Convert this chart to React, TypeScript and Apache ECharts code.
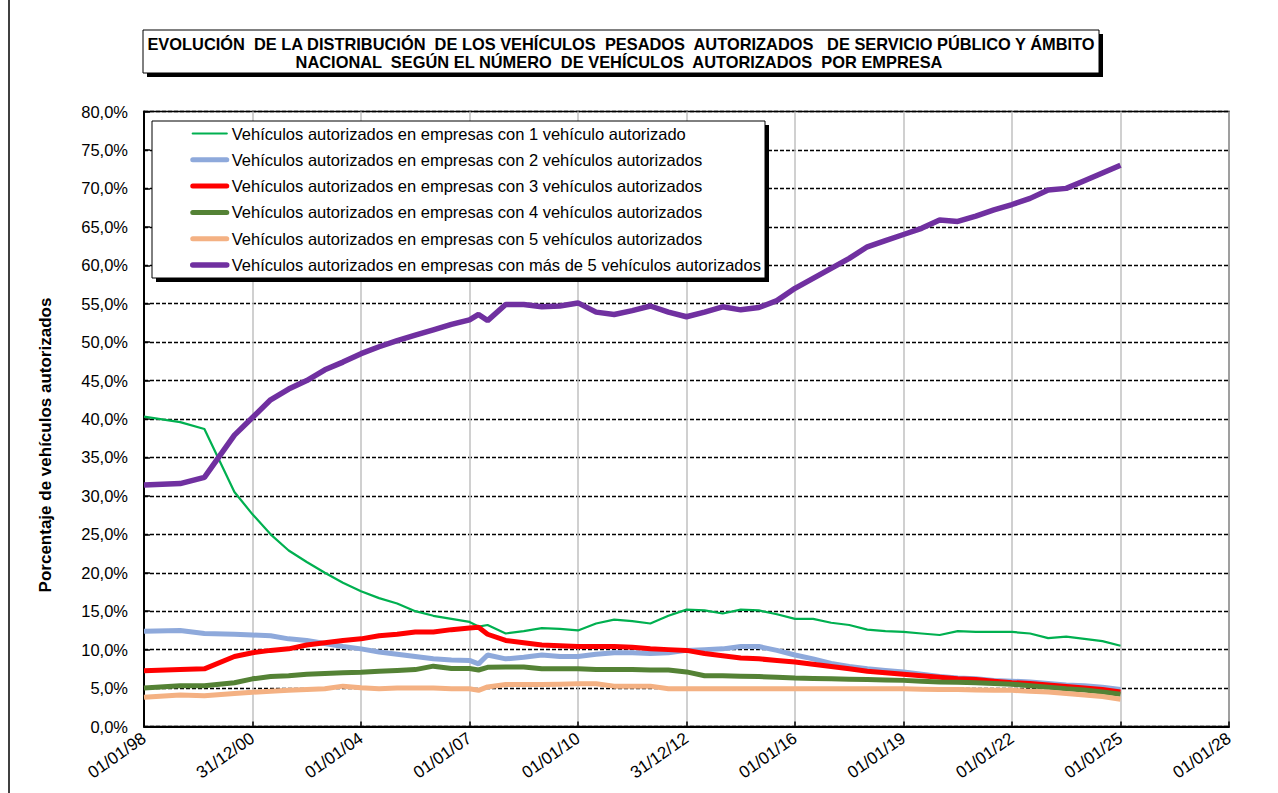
import React, { useEffect, useRef } from "react";
import * as echarts from "echarts";

const dates = [
  1998.0, 1999.0, 1999.67, 2000.5, 2001.0, 2001.5, 2002.0, 2002.5, 2003.0, 2003.5,
  2004.0, 2004.5, 2005.0, 2005.5, 2006.0, 2006.5, 2007.0, 2007.25, 2007.5, 2008.0,
  2008.5, 2009.0, 2009.5, 2010.0, 2010.5, 2011.0, 2011.5, 2012.0, 2012.5, 2013.0,
  2013.5, 2014.0, 2014.5, 2015.0, 2015.5, 2016.0, 2016.5, 2017.0, 2017.5, 2018.0,
  2018.5, 2019.0, 2019.5, 2020.0, 2020.5, 2021.0, 2021.5, 2022.0, 2022.5, 2023.0,
  2023.5, 2024.0, 2024.5, 2025.0,
];

const veh1 = [
  40.3, 39.6, 38.7, 30.5, 27.6, 25.0, 22.9, 21.4, 20.0, 18.7,
  17.6, 16.7, 16.0, 15.0, 14.4, 14.0, 13.6, 13.0, 13.2, 12.1,
  12.4, 12.8, 12.7, 12.5, 13.4, 13.9, 13.7, 13.4, 14.4, 15.2,
  15.1, 14.7, 15.2, 15.1, 14.6, 14.0, 14.0, 13.5, 13.2, 12.6,
  12.4, 12.3, 12.1, 11.9, 12.4, 12.3, 12.3, 12.3, 12.1, 11.5,
  11.7, 11.4, 11.1, 10.5,
];

const veh2 = [
  12.4, 12.5, 12.1, 12.0, 11.9, 11.8, 11.4, 11.2, 10.8, 10.4,
  10.1, 9.7, 9.4, 9.1, 8.8, 8.65, 8.6, 8.15, 9.3, 8.8,
  9.0, 9.3, 9.1, 9.1, 9.4, 9.6, 9.6, 9.5, 9.6, 9.9,
  10.0, 10.1, 10.4, 10.4, 9.9, 9.3, 8.8, 8.2, 7.8, 7.5,
  7.3, 7.1, 6.8, 6.5, 6.3, 6.2, 6.0, 5.9, 5.8, 5.6,
  5.4, 5.3, 5.1, 4.8,
];

const veh3 = [
  7.25, 7.4, 7.5, 9.1, 9.6, 9.9, 10.1, 10.6, 10.9, 11.2,
  11.4, 11.8, 12.0, 12.3, 12.3, 12.6, 12.8, 12.9, 12.0, 11.2,
  10.9, 10.6, 10.5, 10.4, 10.4, 10.4, 10.3, 10.1, 10.0, 9.9,
  9.5, 9.2, 8.9, 8.8, 8.6, 8.4, 8.1, 7.8, 7.5, 7.2,
  7.0, 6.8, 6.6, 6.4, 6.2, 6.1, 5.9, 5.7, 5.6, 5.4,
  5.2, 5.0, 4.8, 4.5,
];

const veh4 = [
  5.0, 5.3, 5.3, 5.7, 6.2, 6.5, 6.6, 6.8, 6.9, 7.0,
  7.05, 7.2, 7.3, 7.4, 7.85, 7.55, 7.55, 7.35, 7.7, 7.75,
  7.75, 7.5, 7.5, 7.5, 7.4, 7.4, 7.4, 7.35, 7.35, 7.1,
  6.6, 6.6, 6.55, 6.5, 6.4, 6.3, 6.25, 6.2, 6.15, 6.1,
  6.05, 6.0, 5.9, 5.8, 5.75, 5.7, 5.6, 5.5, 5.3, 5.1,
  4.9, 4.75, 4.5, 4.2,
];

const veh5 = [
  3.8, 4.1, 4.0, 4.3, 4.45, 4.6, 4.7, 4.8, 4.9, 5.25,
  5.05, 4.9, 5.0, 5.0, 5.0, 4.9, 4.9, 4.7, 5.15, 5.45,
  5.45, 5.45, 5.5, 5.55, 5.55, 5.25, 5.25, 5.25, 4.9, 4.9,
  4.9, 4.9, 4.9, 4.9, 4.9, 4.9, 4.9, 4.9, 4.9, 4.9,
  4.9, 4.9, 4.85, 4.8, 4.8, 4.75, 4.7, 4.7, 4.6, 4.5,
  4.3, 4.1, 3.9, 3.55,
];

const vehMore5 = [
  31.4, 31.6, 32.4, 37.9, 40.2, 42.5, 43.9, 45.0, 46.4, 47.4,
  48.5, 49.4, 50.2, 50.9, 51.6, 52.3, 52.9, 53.6, 52.8, 54.9,
  54.9, 54.6, 54.7, 55.1, 53.9, 53.6, 54.1, 54.7, 53.9, 53.3,
  53.9, 54.6, 54.2, 54.5, 55.4, 57.0, 58.3, 59.6, 60.9, 62.4,
  63.2, 64.0, 64.8, 65.9, 65.7, 66.4, 67.2, 67.9, 68.7, 69.8,
  70.0, 71.0, 72.0, 73.0,
];

const xTickLabels = [
  "01/01/98", "31/12/00", "01/01/04", "01/01/07", "01/01/10", "31/12/12",
  "01/01/16", "01/01/19", "01/01/22", "01/01/25", "01/01/28",
];

const seriesNames = [
  "Vehículos autorizados en empresas con 1 vehículo autorizado",
  "Vehículos autorizados en empresas con 2 vehículos autorizados",
  "Vehículos autorizados en empresas con 3 vehículos autorizados",
  "Vehículos autorizados en empresas con 4 vehículos autorizados",
  "Vehículos autorizados en empresas con 5 vehículos autorizados",
  "Vehículos autorizados en empresas con más de 5 vehículos autorizados",
];

const seriesColors = ["#00B050", "#8EA9DB", "#FF0000", "#548235", "#F4B183", "#7030A0"];
const seriesWidths = [2.2, 5, 5, 5, 5, 5.5];

const titleLine1 =
  "EVOLUCIÓN  DE LA DISTRIBUCIÓN  DE LOS VEHÍCULOS  PESADOS  AUTORIZADOS   DE SERVICIO PÚBLICO Y ÁMBITO";
const titleLine2 = "NACIONAL  SEGÚN EL NÚMERO  DE VEHÍCULOS  AUTORIZADOS  POR EMPRESA";
const yAxisTitle = "Porcentaje de vehículos autorizados";

const FONT = "'Liberation Sans', Arial, sans-serif";

export default function App() {
  const ref = useRef<HTMLDivElement>(null);

  useEffect(() => {
    if (!ref.current) return;
    const chart = echarts.init(ref.current, undefined, { renderer: "svg" });
    const allValues = [veh1, veh2, veh3, veh4, veh5, vehMore5];

    const option = {
      animation: false,
      backgroundColor: "#fff",
      textStyle: { fontFamily: FONT },
      grid: {
        left: 144,
        right: 49,
        top: 111.5,
        bottom: 66.5,
        show: true,
        borderColor: "#000",
        borderWidth: 1.5,
        backgroundColor: "transparent",
      },
      xAxis: {
        type: "value",
        min: 1998,
        max: 2028,
        interval: 3,
        axisLine: { show: true, lineStyle: { color: "#000", width: 2 } },
        axisTick: { show: true, inside: true, length: 5, lineStyle: { color: "#000", width: 1.5 } },
        splitLine: { show: true, lineStyle: { color: "#c0c0c0", width: 1.5 } },
        axisLabel: {
          rotate: 35,
          margin: 10,
          fontSize: 17,
          fontFamily: FONT,
          color: "#000",
          formatter: (v: number) => xTickLabels[Math.round((v - 1998) / 3)] ?? "",
        },
      },
      yAxis: {
        type: "value",
        min: 0,
        max: 80,
        interval: 5,
        axisLine: { show: true, lineStyle: { color: "#000", width: 2 } },
        axisTick: { show: true, inside: true, length: 6, lineStyle: { color: "#000", width: 1.5 } },
        splitLine: { show: true, lineStyle: { color: "#000", width: 1.3, type: [4, 2] } },
        axisLabel: {
          margin: 16,
          fontSize: 16.5,
          fontFamily: FONT,
          color: "#000",
          formatter: (v: number) => v.toFixed(1).replace(".", ",") + "%",
        },
      },
      legend: {
        orient: "vertical",
        left: 190,
        top: 125,
        padding: 0,
        itemWidth: 34,
        itemHeight: 10,
        itemGap: 9.3,
        z: 10,
        itemStyle: { opacity: 0 },
        textStyle: { fontSize: 16.5, fontFamily: FONT, color: "#000" },
        data: seriesNames.map((name, i) => ({
          name,
          lineStyle: { width: seriesWidths[i], color: seriesColors[i], cap: "round" },
        })),
      },
      graphic: [
        { type: "rect", z: 5, shape: { x: 147, y: 34, width: 956, height: 43 }, style: { fill: "#000" } },
        {
          type: "rect",
          z: 6,
          shape: { x: 143, y: 30, width: 956, height: 43 },
          style: { fill: "#fff", stroke: "#000", lineWidth: 1 },
        },
        {
          type: "text",
          z: 7,
          x: 621,
          y: 43.5,
          style: {
            text: titleLine1,
            fill: "#000",
            font: `bold 16.4px ${FONT}`,
            align: "center",
            verticalAlign: "middle",
          },
        },
        {
          type: "text",
          z: 7,
          x: 619,
          y: 61.5,
          style: {
            text: titleLine2,
            fill: "#000",
            font: `bold 16.4px ${FONT}`,
            align: "center",
            verticalAlign: "middle",
          },
        },
        { type: "rect", z: 5, shape: { x: 156, y: 125, width: 613, height: 157 }, style: { fill: "#000" } },
        {
          type: "rect",
          z: 6,
          shape: { x: 152, y: 121, width: 613, height: 157 },
          style: { fill: "#fff", stroke: "#000", lineWidth: 1 },
        },
        {
          type: "text",
          z: 7,
          x: 45,
          y: 445,
          rotation: Math.PI / 2,
          style: {
            text: yAxisTitle,
            fill: "#000",
            font: `bold 17px ${FONT}`,
            align: "center",
            verticalAlign: "middle",
          },
        },
        {
          type: "line",
          z: 7,
          shape: { x1: 9, y1: 0, x2: 9, y2: 793 },
          style: { stroke: "#000", lineWidth: 1.5 },
        },
      ],
      series: seriesNames.map((name, i) => ({
        name,
        type: "line",
        symbol: "none",
        showSymbol: false,
        z: 2 + i * 0.01,
        data: dates.map((d, j) => [d, allValues[i][j]]),
        lineStyle: { color: seriesColors[i], width: seriesWidths[i] },
        itemStyle: { color: seriesColors[i] },
      })),
    };

    chart.setOption(option as any);
    return () => chart.dispose();
  }, []);

  return (
    <div
      ref={ref}
      style={{ position: "fixed", left: 0, top: 0, width: 1278, height: 793, background: "#fff" }}
    />
  );
}
